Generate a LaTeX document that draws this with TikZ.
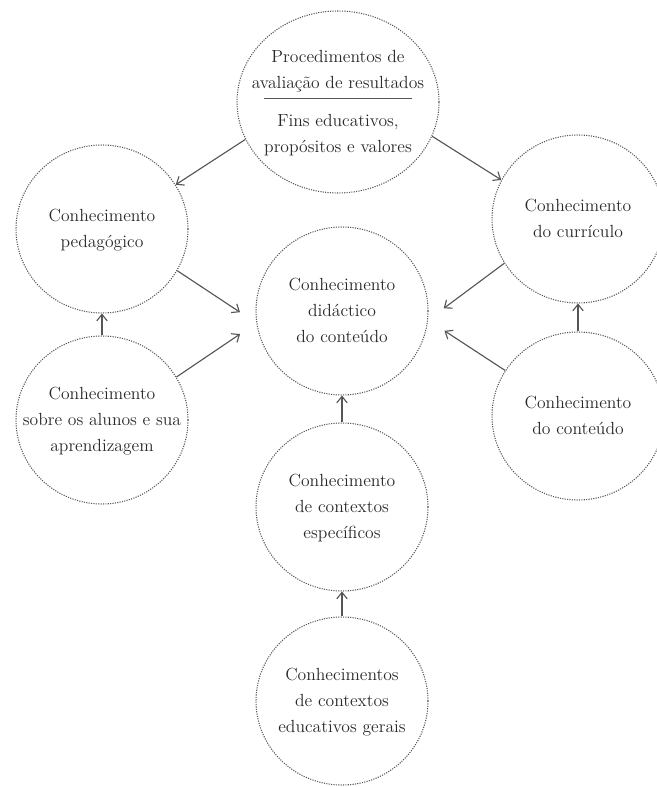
\documentclass[tikz,border=0pt]{standalone}
\usepackage{fontspec}
\usetikzlibrary{shapes.geometric, arrows.meta}
\definecolor{ringGray}{RGB}{85, 85, 85}
\definecolor{textGray}{RGB}{40, 40, 40}
\definecolor{arrowGray}{RGB}{85, 85, 85}
% text of a ring, kept out of the ellipse size
\newcommand{\ringtext}[1]{\makebox[0pt]{\begin{tabular}{@{}c@{}}#1\end{tabular}}}

\begin{document}
\begin{tikzpicture}[x=0.25mm, y=-0.25mm,
    knowbox/.style={ellipse, draw=ringGray, line width=0.75pt,
      dash pattern=on 0.8pt off 0.9pt, minimum width=43mm, minimum height=42mm,
      inner sep=0pt, text=textGray, font=\fontsize{12.5}{18.5}\selectfont},
    flow/.style={draw=arrowGray, line width=0.8pt,
      -{Straight Barb[length=1.6mm, width=2.6mm]}}]
  \useasboundingbox (0,0) rectangle (656,787);

  \node[knowbox, minimum width=50.5mm, minimum height=45.5mm] (aims) at (338,102)
    {\ringtext{Procedimentos de\\avaliação de resultados\\[3mm]Fins educativos,\\propósitos e valores}};
  \draw[arrowGray, line width=0.7pt] ([xshift=-18.5mm, yshift=1mm]aims.center)
    -- ([xshift=18.5mm, yshift=1mm]aims.center);

  \node[knowbox] (ped) at (102,229) {\ringtext{Conhecimento\\pedagógico}};
  \node[knowbox] (cur) at (578,219) {\ringtext{Conhecimento\\do currículo}};
  \node[knowbox] (did) at (342,311) {\ringtext{Conhecimento\\didáctico\\do conteúdo}};
  \node[knowbox] (alu) at (102,420) {\ringtext{Conhecimento\\sobre os alunos e sua\\aprendizagem}};
  \node[knowbox] (con) at (578,416) {\ringtext{Conhecimento\\do conteúdo}};
  \node[knowbox] (esp) at (342,507) {\ringtext{Conhecimento\\de contextos\\específicos}};
  \node[knowbox] (ger) at (342,701) {\ringtext{Conhecimentos\\de contextos\\educativos gerais}};

  \draw[flow] (aims.202) -- (ped.31);
  \draw[flow] (aims.-20) -- (cur.153);
  % side arrows stop short of the central ring
  \draw[flow, shorten >=4.9mm] (ped.-29) -- (did.188);
  \draw[flow, shorten >=4.9mm] (alu.30) -- (did.188);
  \draw[flow, shorten >=4.9mm] (cur.211) -- (did.-6);
  \draw[flow, shorten >=4.9mm] (con.148) -- (did.-6);
  \draw[flow] (alu.north) -- (ped.south);
  \draw[flow] (con.north) -- (cur.south);
  \draw[flow] (esp.north) -- (did.south);
  \draw[flow] (ger.north) -- (esp.south);
\end{tikzpicture}
\end{document}
